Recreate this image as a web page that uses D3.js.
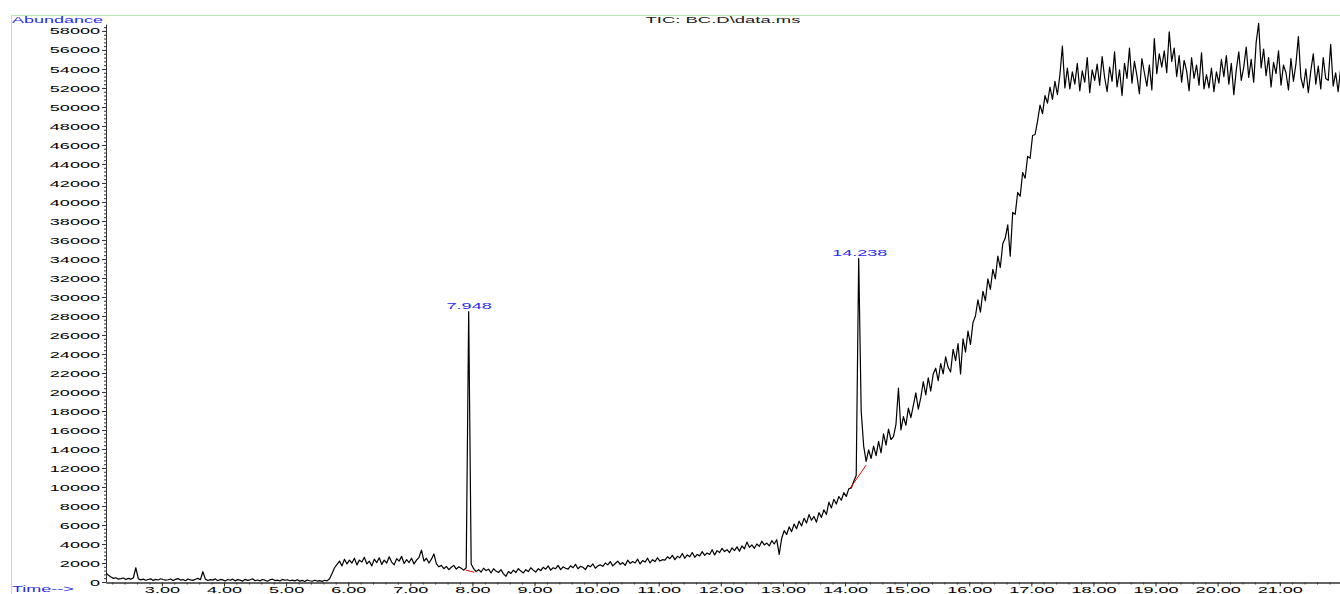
<!DOCTYPE html>
<html>
<head>
<meta charset="utf-8">
<script src="https://cdn.jsdelivr.net/npm/d3@7"></script>
<style>
body { margin: 0; background: #fff; }
text { font-family: "Liberation Sans", Arial, sans-serif; }
</style>
</head>
<body>
<script>
// scan times: startTime + i*step (min)
let startTime = 2.10, step = 0.04;
let abundance = [
  950, 700, 520, 380, 450, 300, 350, 420, 260, 380, 300, 420, 1500, 350, 220, 300, 180, 260, 330, 150, 280, 210, 340, 260, 190,
  240, 320, 150, 280, 360, 200, 260, 130, 310, 220, 170, 290, 380, 240, 1080, 300, 160, 250, 200, 330, 140, 270, 220, 110, 260,
  180, 300, 120, 250, 200, 90, 280, 170, 230, 340, 140, 210, 120, 260, 190, 80, 230, 300, 150, 200, 110, 270, 180, 240, 130,
  200, 120, 240, 90, 170, 60, 210, 130, 80, 190, 100, 150, 60, 180, 120, 350, 900, 1500, 1850, 2200, 1700, 2400, 1900, 2300, 2000,
  2500, 1800, 2300, 2100, 2600, 1900, 2200, 1700, 2400, 2050, 2550, 1850, 2300, 2000, 2650, 2100, 1800, 2450, 2200, 2700, 1950, 2350, 2050, 2500, 1900,
  2300, 2600, 3350, 2200, 2500, 2000, 2400, 2950, 1900, 1600, 1750, 1400, 1650, 1300, 1550, 1750, 1350, 1600, 1450, 1250, 1500, 28450, 1900, 1400, 1100,
  1300, 1050, 1450, 1200, 1350, 950, 1400, 1150, 1000, 1300, 850, 600, 1100, 900, 1250, 1000, 1400, 1150, 950, 1300, 1100, 1500, 1250, 1050, 1400,
  1200, 1550, 1350, 1700, 1250, 1500, 1400, 1750, 1300, 1600, 1450, 1350, 1700, 1500, 1850, 1400, 1650, 1550, 1300, 1750, 1600, 1900, 1450, 1700, 1800,
  1650, 2000, 1800, 2150, 1700, 1950, 2200, 1850, 2050, 1750, 2300, 1950, 2150, 2000, 2400, 1900, 2250, 2100, 2500, 2000, 2350, 2150, 2550, 2200, 2350,
  2300, 2650, 2450, 2800, 2350, 2700, 2550, 3000, 2500, 2850, 2650, 3100, 2600, 2900, 2750, 3200, 2800, 3050, 2900, 3400, 2850, 3300, 3100, 3550, 3200,
  3400, 3100, 3600, 3300, 3700, 3250, 3800, 3500, 4200, 3650, 3900, 3550, 4000, 3750, 4300, 3900, 4100, 3800, 4350, 4000, 4450, 2900, 4600, 5400, 5000,
  5800, 5300, 6100, 5600, 6400, 5900, 6700, 6200, 7100, 6500, 6900, 6300, 7300, 6800, 7600, 7100, 8400, 7800, 8700, 8200, 9000, 8600, 9400, 9000, 9800,
  9900, 10600, 11200, 34070, 18000, 14300, 12700, 13900, 13000, 14300, 13300, 14800, 13600, 15600, 14400, 16100, 15000, 15300, 16600, 20400, 16000, 17400, 16500, 18300, 17300,
  18600, 19900, 18200, 19400, 21100, 19700, 21500, 20100, 21900, 22500, 21200, 23000, 21900, 23700, 22600, 22100, 24500, 23300, 25100, 21900, 25600, 24200, 26400, 25000, 27300,
  28000, 29700, 28400, 30600, 29600, 31900, 30800, 32900, 31900, 34300, 33100, 35600, 36200, 37600, 34300, 38900, 38700, 41000, 40600, 43100, 42500, 44800, 44600, 47000, 47100,
  48500, 50200, 49300, 51200, 50400, 52100, 50800, 52700, 51300, 53400, 56400, 52000, 54100, 51900, 53700, 52400, 54600, 51700, 53800, 52600, 55200, 51500, 53900, 52800, 54500,
  52300, 55300, 53100, 51600, 54200, 52700, 55800, 52100, 53900, 51200, 54600, 53000, 56200, 52500, 54800, 53300, 51400, 55100, 53600, 52200, 54400, 51800, 57200, 53500, 55600,
  54200, 55900, 53600, 57900, 54800, 56200, 53200, 55400, 52600, 54900, 53800, 51700, 55200, 53000, 54400, 52300, 55700, 51900, 53400, 52000, 54100, 51600, 53700, 52500, 55000,
  53200, 55400, 52400, 54600, 51300, 53900, 55800, 52800, 54200, 56300, 53100, 55000, 52600, 56800, 58800, 54100, 56100, 53300, 55200, 52100, 54700, 53500, 55900, 52300, 54400,
  53600, 51800, 55100, 52700, 54500, 57400, 53100, 52000, 54000, 51500, 53800, 55600, 52400, 54300, 51900, 55200, 53000, 52800, 56600, 52200, 53600, 51600, 54000, 52900, 53400
];
let peakTimes = [7.948, 14.238];
let peakHeights = [28450, 34070];
let peakLabels = ['7.948', '14.238'];
// integration baselines [t0, v0, t1, v1]
let baseLines = [[7.89, 1260, 8.03, 1020], [14.08, 9860, 14.34, 12300]];
let yTicks = d3.range(0, 58001, 2000);
let xTicks = d3.range(3, 22, 1);

let width = 1340, height = 594;
let svg = d3.select('body').append('svg')
    .attr('width', width)
    .attr('height', height);

let x = d3.scaleLinear().domain([2.1, 21.97]).range([106, 1340]);
let y = d3.scaleLinear().domain([0, 58700]).range([582, 24.3]);

// wide lettering like the original printout
function stretch(sel, k) {
    sel.each(function() {
        let w = this.getComputedTextLength();
        d3.select(this).attr('textLength', w * k).attr('lengthAdjust', 'spacingAndGlyphs');
    });
}

// green frame
svg.append('line').attr('x1', 11).attr('x2', 1340).attr('y1', 15.5).attr('y2', 15.5)
    .attr('stroke', '#b3e9b3').attr('stroke-width', 1);
svg.append('line').attr('x1', 11.5).attr('x2', 11.5).attr('y1', 15).attr('y2', 594)
    .attr('stroke', '#b3e9b3').attr('stroke-width', 1);

// y axis
let gy = svg.append('g').attr('transform', 'translate(106,0)');
gy.call(d3.axisLeft(y).tickValues(d3.range(0, 58700, 400)).tickSize(2).tickSizeOuter(0).tickFormat(''));
gy.append('g').call(d3.axisLeft(y).tickValues(yTicks).tickSize(4).tickSizeOuter(0).tickPadding(2)
    .tickFormat(d3.format('d')));
gy.selectAll('path.domain').attr('stroke', '#333');
gy.selectAll('.tick line').attr('stroke', '#333');
gy.selectAll('.tick text').attr('font-size', '9.5px').attr('fill', '#000').call(stretch, 1.9);

// x axis
let gx = svg.append('g').attr('transform', 'translate(0,582.5)');
gx.call(d3.axisBottom(x).tickValues(d3.range(2.2, 21.97, 0.2)).tickSize(2).tickSizeOuter(0).tickFormat(''));
gx.append('g').call(d3.axisBottom(x).tickValues(xTicks).tickSize(4).tickSizeOuter(0)
    .tickFormat(d3.format('.2f')));
gx.selectAll('path.domain').attr('stroke', '#333');
gx.selectAll('.tick line').attr('stroke', '#333');
gx.selectAll('.tick text').attr('font-size', '9.5px').attr('fill', '#000')
    .attr('y', 10.5).attr('dy', 0).call(stretch, 1.9);

// trace
svg.append('clipPath').attr('id', 'plot')
    .append('rect').attr('x', 106).attr('y', 0).attr('width', 1234).attr('height', 594);

let line = d3.line()
    .x(function(d, i) { return x(startTime + i * step); })
    .y(function(d) { return y(d); });

svg.append('path')
    .datum(abundance)
    .attr('clip-path', 'url(#plot)')
    .attr('fill', 'none')
    .attr('stroke', '#000')
    .attr('stroke-width', 1.2)
    .attr('stroke-linejoin', 'round')
    .attr('d', line);

// baselines
svg.selectAll('line.base')
    .data(baseLines)
    .enter()
    .append('line')
    .attr('class', 'base')
    .attr('x1', function(d) { return x(d[0]); })
    .attr('y1', function(d) { return y(d[1]); })
    .attr('x2', function(d) { return x(d[2]); })
    .attr('y2', function(d) { return y(d[3]); })
    .attr('stroke', '#e00')
    .attr('stroke-width', 1);

// peak labels
svg.selectAll('text.peak')
    .data(peakTimes)
    .enter()
    .append('text')
    .attr('class', 'peak')
    .attr('x', function(d) { return x(d); })
    .attr('y', function(d, i) { return y(peakHeights[i]) - 2.5; })
    .attr('text-anchor', 'middle')
    .attr('font-size', '9.5px')
    .attr('fill', '#2b2bf0')
    .text(function(d, i) { return peakLabels[i]; })
    .call(stretch, 1.9);

// labels
svg.append('text').attr('x', 12).attr('y', 22.5).attr('font-size', '9px').attr('fill', '#2b2bf0')
    .text('Abundance').call(stretch, 2.0);
svg.append('text').attr('x', 12).attr('y', 592).attr('font-size', '9px').attr('fill', '#2b2bf0')
    .text('Time-->').call(stretch, 2.0);
svg.append('text').attr('x', 723).attr('y', 22.5).attr('text-anchor', 'middle').attr('font-size', '9px')
    .attr('fill', '#1a1a1a').text('TIC: BC.D\\data.ms').call(stretch, 2.05);
</script>
</body>
</html>
